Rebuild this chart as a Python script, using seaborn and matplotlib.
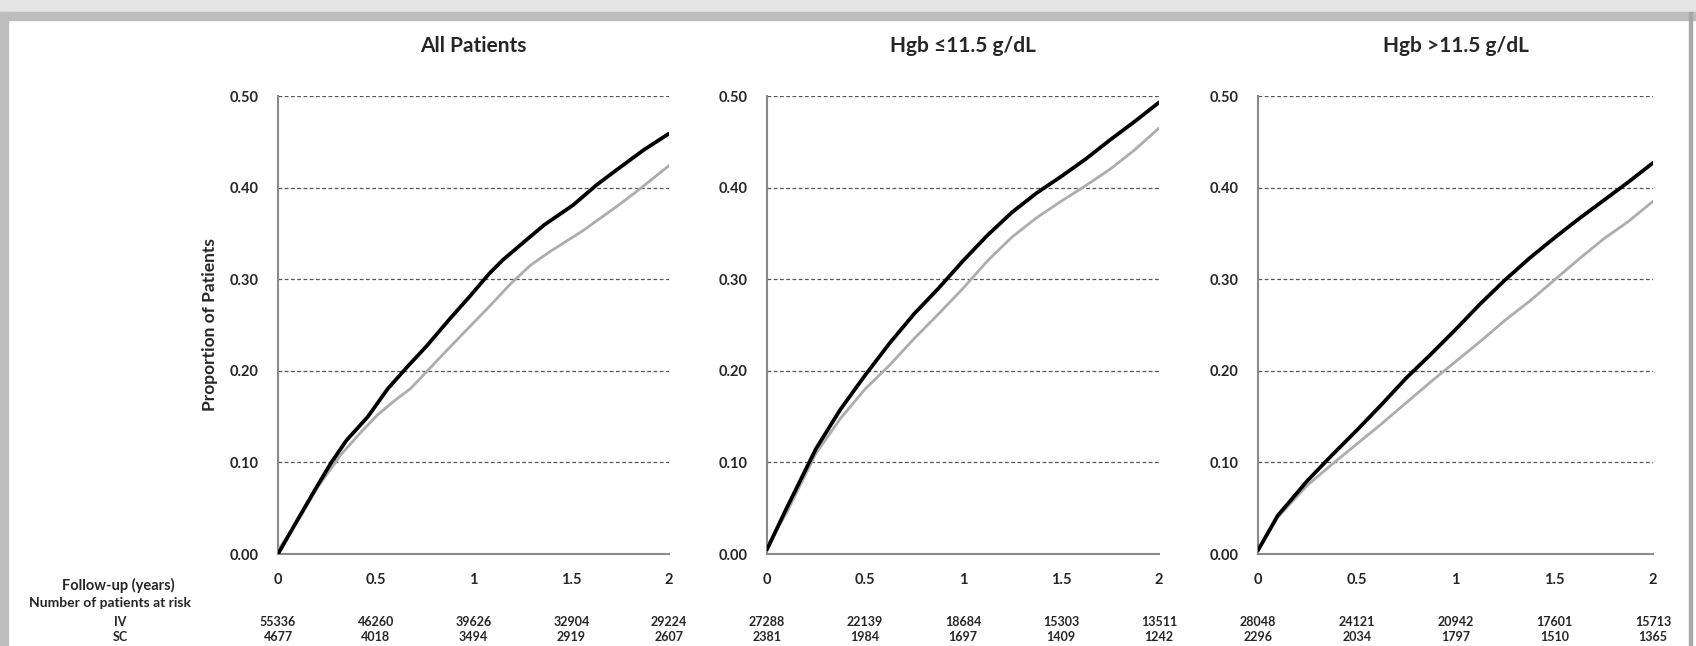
import seaborn as sns
import matplotlib.pyplot as plt
import numpy as np
import pandas as pd
from matplotlib.patches import Rectangle
from matplotlib.transforms import blended_transform_factory

sns.set_style('white')
plt.rcParams['font.family'] = ['Lato', 'DejaVu Sans']
plt.rcParams['font.weight'] = 'bold'

titles = ['All Patients', 'Hgb \u226411.5 g/dL', 'Hgb >11.5 g/dL']
tick_years = [0, 0.5, 1, 1.5, 2]
tick_labels = ['0', '0.5', '1', '1.5', '2']

# number at risk per panel
iv_risk = [[55336, 46260, 39626, 32904, 29224],
           [27288, 22139, 18684, 15303, 13511],
           [28048, 24121, 20942, 17601, 15713]]
sc_risk = [[4677, 4018, 3494, 2919, 2607],
           [2381, 1984, 1697, 1409, 1242],
           [2296, 2034, 1797, 1510, 1365]]

# curves
t_all_iv = [0, 0.11, 0.2, 0.27, 0.35, 0.46, 0.56, 0.66, 0.76, 0.88, 0.98, 1.08, 1.15, 1.26, 1.36, 1.51, 1.63, 1.73, 1.87, 2.0]
y_all_iv = [0.0, 0.041, 0.074, 0.099, 0.124, 0.150, 0.180, 0.204, 0.227, 0.257, 0.281, 0.306, 0.321, 0.341, 0.359, 0.381, 0.403, 0.419, 0.441, 0.459]
t_all_sc = [0, 0.11, 0.2, 0.32, 0.42, 0.51, 0.6, 0.68, 0.76, 0.88, 0.98, 1.08, 1.19, 1.29, 1.39, 1.56, 1.73, 1.83, 2.0]
y_all_sc = [0.004, 0.039, 0.072, 0.108, 0.132, 0.152, 0.168, 0.181, 0.199, 0.226, 0.248, 0.270, 0.295, 0.315, 0.330, 0.353, 0.379, 0.395, 0.424]

t_low_iv = [0, 0.1, 0.25, 0.375, 0.5, 0.625, 0.75, 0.875, 1.0, 1.125, 1.25, 1.375, 1.5, 1.625, 1.75, 1.875, 2.0]
y_low_iv = [0.005, 0.05, 0.115, 0.158, 0.195, 0.230, 0.262, 0.290, 0.320, 0.348, 0.373, 0.394, 0.412, 0.431, 0.452, 0.472, 0.493]
t_low_sc = [0, 0.1, 0.25, 0.375, 0.5, 0.625, 0.75, 0.875, 1.0, 1.125, 1.25, 1.375, 1.5, 1.625, 1.75, 1.875, 2.0]
y_low_sc = [0.008, 0.045, 0.110, 0.148, 0.180, 0.206, 0.235, 0.262, 0.290, 0.320, 0.346, 0.367, 0.385, 0.402, 0.420, 0.441, 0.465]

t_high_iv = [0, 0.1, 0.25, 0.375, 0.5, 0.625, 0.75, 0.875, 1.0, 1.125, 1.25, 1.375, 1.5, 1.625, 1.75, 1.875, 2.0]
y_high_iv = [0.004, 0.042, 0.080, 0.108, 0.135, 0.163, 0.192, 0.218, 0.245, 0.273, 0.299, 0.323, 0.345, 0.366, 0.386, 0.406, 0.427]
t_high_sc = [0, 0.1, 0.25, 0.375, 0.5, 0.625, 0.75, 0.875, 1.0, 1.125, 1.25, 1.375, 1.5, 1.625, 1.75, 1.875, 2.0]
y_high_sc = [0.004, 0.040, 0.075, 0.098, 0.120, 0.142, 0.165, 0.188, 0.210, 0.232, 0.255, 0.276, 0.299, 0.322, 0.344, 0.363, 0.385]

curves = [((t_all_iv, y_all_iv), (t_all_sc, y_all_sc)),
          ((t_low_iv, y_low_iv), (t_low_sc, y_low_sc)),
          ((t_high_iv, y_high_iv), (t_high_sc, y_high_sc))]

W, H = 1696, 646
fig = plt.figure(figsize=(W / 100, H / 100), dpi=100)

# screenshot-like frame
fig.patches.append(Rectangle((0, 1 - 12 / H), 1, 12 / H, transform=fig.transFigure, color='#e4e4e4', zorder=0))
fig.patches.append(Rectangle((0, 1 - 20 / H), 1, 8 / H, transform=fig.transFigure, color='#bdbdbd', zorder=0))
fig.patches.append(Rectangle((0, 0), 8 / W, 1 - 12 / H, transform=fig.transFigure, color='#bdbdbd', zorder=0))
fig.patches.append(Rectangle((1689 / W, 0), 3 / W, 1 - 12 / H, transform=fig.transFigure, color='#a8a8a8', zorder=0))

lefts = [278, 767, 1258]
widths = [391, 392, 395]
bottom_px, top_px = 554, 96

for i in range(3):
    ax = fig.add_axes([lefts[i] / W, 1 - bottom_px / H, widths[i] / W, (bottom_px - top_px) / H])
    (tiv, yiv), (tsc, ysc) = curves[i]
    df_iv = pd.DataFrame({'t': tiv, 'p': yiv})
    df_sc = pd.DataFrame({'t': tsc, 'p': ysc})
    sns.lineplot(data=df_sc, x='t', y='p', ax=ax, color='#adadad', lw=2.0, zorder=3,
                 solid_joinstyle='round', solid_capstyle='round')
    sns.lineplot(data=df_iv, x='t', y='p', ax=ax, color='black', lw=2.7, zorder=4,
                 solid_joinstyle='round', solid_capstyle='round')
    ax.set_xlim(0, 2)
    ax.set_ylim(0, 0.5)
    ax.set_xticks(tick_years, tick_labels)
    ax.set_yticks([0, 0.1, 0.2, 0.3, 0.4, 0.5], ['0.00', '0.10', '0.20', '0.30', '0.40', '0.50'])
    for y in [0.1, 0.2, 0.3, 0.4, 0.5]:
        ax.axhline(y, color='#555555', lw=0.9, ls=(0, (3, 2)), zorder=1)
    for s in ['top', 'right']:
        ax.spines[s].set_visible(False)
    for s in ['left', 'bottom']:
        ax.spines[s].set_color('#8a8a8a')
        ax.spines[s].set_linewidth(1.5)
    ax.tick_params(axis='x', length=3, color='#8a8a8a', pad=11, labelsize=10.5)
    ax.tick_params(axis='y', length=4, color='#8a8a8a', pad=10, labelsize=10.5)
    for lab in ax.get_xticklabels() + ax.get_yticklabels():
        lab.set_fontweight('bold')
    ax.set_xlabel('')
    ax.set_ylabel('')
    ax.set_title(titles[i], fontsize=15, fontweight='bold', pad=32)
    tr = blended_transform_factory(ax.transData, fig.transFigure)
    for x, a, b in zip(tick_years, iv_risk[i], sc_risk[i]):
        ax.text(x, 1 - 622 / H, str(a), transform=tr, ha='center', va='center', fontsize=9, fontweight='bold')
        ax.text(x, 1 - 637 / H, str(b), transform=tr, ha='center', va='center', fontsize=9, fontweight='bold')
    if i == 0:
        ax.set_ylabel('Proportion of Patients', fontsize=12.5, fontweight='bold', labelpad=8)

fig.text(118 / W, 1 - 585 / H, 'Follow-up (years)', ha='center', va='center', fontsize=10.5, fontweight='bold')
fig.text(110 / W, 1 - 603 / H, 'Number of patients at risk', ha='center', va='center', fontsize=10, fontweight='bold')
fig.text(120 / W, 1 - 622 / H, 'IV', ha='center', va='center', fontsize=9, fontweight='bold')
fig.text(120 / W, 1 - 637 / H, 'SC', ha='center', va='center', fontsize=9, fontweight='bold')

fig.savefig('out.png', dpi=100)
